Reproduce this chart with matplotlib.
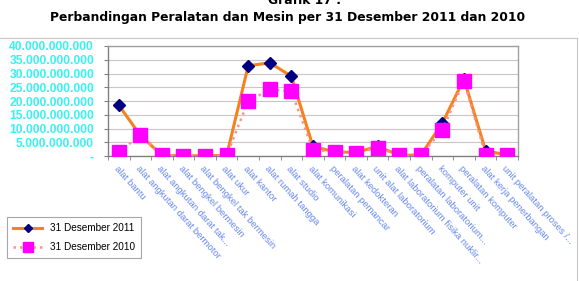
import matplotlib.pyplot as plt
from matplotlib.lines import Line2D
from matplotlib.transforms import ScaledTranslation
import numpy as np

# categories and values (Rupiah)
categories = ['alat bantu', 'alat angkutan darat bermotor', 'alat angkutan darat tak...',
              'alat bengkel bermesin', 'alat bengkel tak bermesin', 'alat ukur', 'alat kantor',
              'alat rumah tangga', 'alat studio', 'alat komunikasi', 'peralatan pemancar',
              'alat kedokteran', 'unit alat laboratorium', 'alat laboratorium fisika nuklir...',
              'peralatan laboratorium...', 'komputer unit', 'peralatan komputer',
              'alat kerja penerbangan', 'unit peralatan proses /...']
des_2011 = [18.5e9, 7.5e9, 0.3e9, 0.1e9, 0.1e9, 0.2e9, 32.8e9, 33.9e9, 29.0e9, 3.5e9,
            1.5e9, 1.3e9, 3.5e9, 0.3e9, 0.3e9, 12.0e9, 28.0e9, 2.0e9, 0.3e9]
des_2010 = [1.3e9, 7.6e9, 0.3e9, 0.1e9, 0.1e9, 0.2e9, 20.0e9, 24.2e9, 23.5e9, 2.2e9,
            1.6e9, 1.2e9, 3.0e9, 0.3e9, 0.3e9, 9.5e9, 27.3e9, 0.4e9, 0.3e9]
yticks = np.arange(0, 40e9 + 1, 5e9)
ytick_labels = ['-'] + ['{:,.0f}'.format(v).replace(',', '.') for v in yticks[1:]]

plt.rcParams['font.family'] = 'Liberation Sans'

fig = plt.figure(figsize=(5.79, 2.81), dpi=100)
ax = fig.add_axes([0.1865, 0.4448, 0.708, 0.3915])

# outer chart frame (top and right edge visible)
fig.add_artist(Line2D([0, 577 / 579], [1 - 38 / 281, 1 - 38 / 281], transform=fig.transFigure,
                      color='#c8c8c8', lw=0.8))
fig.add_artist(Line2D([577 / 579, 577 / 579], [1 - 38 / 281, 0], transform=fig.transFigure,
                      color='#c8c8c8', lw=0.8))

x = np.arange(len(categories))
ax.plot(x, des_2011, color='#f5821f', lw=2.2, marker='D', ms=6.5, mfc='#000080', mec='#000080',
        label='31 Desember 2011', zorder=3)
ax.plot(x, des_2010, color='#ff9090', lw=1.8, ls=':', marker='s', ms=9.5, mfc='#ff00ff',
        mec='#ff00ff', label='31 Desember 2010', zorder=4)

ax.set_xlim(-0.5, len(categories) - 0.5)
ax.set_ylim(0, 40e9)
ax.set_yticks(yticks)
ax.set_yticklabels(ytick_labels, color='#36f2f2', fontsize=8.7, fontweight='bold')
ax.yaxis.grid(True, color='#cfc3c8', lw=0.8)
ax.set_axisbelow(True)

ax.set_xticks(x)
ax.set_xticklabels(categories, rotation=-48, ha='left', va='top', rotation_mode='anchor',
                   fontsize=6.8, color='#6688ee')
# nudge the slanted labels a little right/down like the original
shift = ScaledTranslation(4 / 72, -3 / 72, fig.dpi_scale_trans)
for lab in ax.get_xticklabels():
    lab.set_transform(lab.get_transform() + shift)
ax.set_xticks(np.arange(-0.5, len(categories)), minor=True)
ax.tick_params(axis='x', which='major', length=0, pad=6)
ax.tick_params(axis='x', which='minor', length=3, color='#808080')
ax.tick_params(axis='y', length=3, color='#808080', pad=7)

for s in ['top', 'right']:
    ax.spines[s].set_color('#a0a0a0')
for s in ['left', 'bottom']:
    ax.spines[s].set_color('#808080')
for s in ax.spines.values():
    s.set_linewidth(1)

fig.text(305 / 579, 1 - 1 / 281, 'Grafik 17 :', ha='center', va='center', fontsize=8.9,
         fontweight='bold', family='DejaVu Sans')
fig.text(288 / 579, 1 - 17 / 281, 'Perbandingan Peralatan dan Mesin per 31 Desember 2011 dan 2010',
         ha='center', va='center', fontsize=8.9, fontweight='bold', family='DejaVu Sans')

leg = fig.legend(loc='upper left', bbox_to_anchor=(7 / 579, 1 - 217 / 281), fontsize=7.2,
                 frameon=True, fancybox=False, edgecolor='#909090', borderpad=0.6,
                 borderaxespad=0, handlelength=2.9, labelspacing=0.9, markerscale=0.7)
leg.get_frame().set_linewidth(0.8)

fig.savefig('out.png', dpi=100)
